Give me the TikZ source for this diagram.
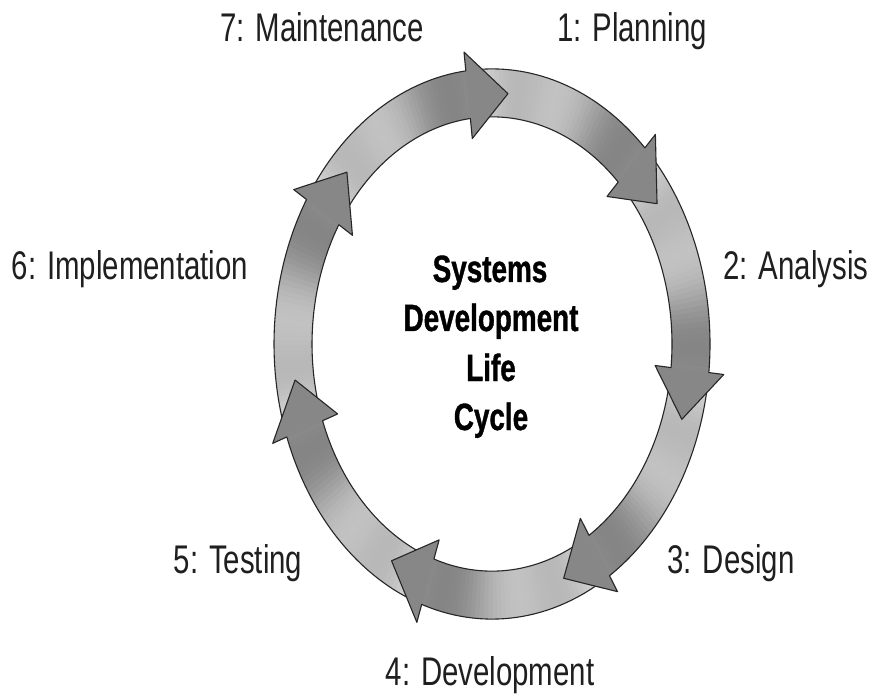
\documentclass[tikz,border=0pt]{standalone}
\usepackage{fontspec}
\setmainfont{Liberation Sans}[FakeStretch=0.735]
\newfontfamily\ctrfont{Liberation Sans}[FakeStretch=0.733, FakeBold=1]
\begin{document}
\begin{tikzpicture}[x=1pt,y=1pt,
  lbl/.style={font=\fontsize{40}{44}\selectfont, anchor=base, inner sep=0pt, text=black!88},
  ctr/.style={font=\ctrfont\bfseries\fontsize{38}{42}\selectfont, anchor=base, inner sep=0pt},
  edge/.style={draw=black!85, line width=1.1pt, line join=round, line cap=round},
  headfill/.style={fill=black!47}]
\useasboundingbox[fill=white] (0,0) rectangle (874,694);
\def\Ro{218}\def\Ri{180}\def\Rm{199}\def\Rw{233}\def\Rv{164}
\begin{scope}[shift={(492,350)}, yscale=1.262]
  % shaded bodies
  \foreach \k in {0,...,6}{
    \pgfmathsetmacro\T{85.4-51.43*\k}
    \pgfmathsetmacro\S{\T+51.43+7.5}
    \pgfmathsetmacro\B{\T+11.5}
    \foreach \i in {0,...,39}{
      \pgfmathsetmacro\f{(\i+0.5)/40}
      \pgfmathsetmacro\aa{\S-(\S-\B)*\i/40}
      \pgfmathsetmacro\ab{\S-(\S-\B)*(\i+1)/40-0.35}
      \pgfmathsetmacro\p{16+30*\f+6*sin(540*\f)}
      \fill[black!\p] (\aa:\Ro) arc[start angle=\aa, end angle=\ab, radius=\Ro]
        -- (\ab:\Ri) arc[start angle=\ab, end angle=\aa, radius=\Ri] -- cycle;
    }
  }
  % body outlines
  \foreach \k in {0,...,6}{
    \pgfmathsetmacro\T{85.4-51.43*\k}
    \pgfmathsetmacro\S{\T+51.43+7.5}
    \pgfmathsetmacro\B{\T+11.5}
    \draw[edge] (\S:\Ro) arc[start angle=\S, end angle=\B, radius=\Ro];
    \draw[edge] (\S:\Ri) arc[start angle=\S, end angle=\B, radius=\Ri];
  }
  % arrow heads
  \foreach \k in {0,...,6}{
    \pgfmathsetmacro\T{85.4-51.43*\k}
    \pgfmathsetmacro\B{\T+11.5}
    \fill[headfill] (\B:\Ro) -- (\B:\Rw) -- (\T:\Rm) -- (\B:\Rv) -- (\B:\Ri) -- cycle;
    \draw[edge] (\B:\Ro) -- (\B:\Rw) -- (\T:\Rm) -- (\B:\Rv) -- (\B:\Ri);
  }
\end{scope}
% labels
\node[lbl] (maint) at (322,652) {7: Maintenance};
\node[lbl] (plan)  at (632,652) {1: Planning};
\node[lbl] (impl)  at (130,414) {6: Implementation};
\node[lbl] (anal)  at (796,414) {2: Analysis};
\node[lbl] (test)  at (238,121) {5: Testing};
\node[lbl] (desg)  at (731,121) {3: Design};
\node[lbl] (devl)  at (490,9)   {4: Development};
% centre title
\node[ctr] (sys)  at (490,412) {Systems};
\node[ctr] (dev)  at (491,363) {Development};
\node[ctr] (life) at (491,313) {Life};
\node[ctr] (cyc)  at (491,264) {Cycle};
\end{tikzpicture}
\end{document}
